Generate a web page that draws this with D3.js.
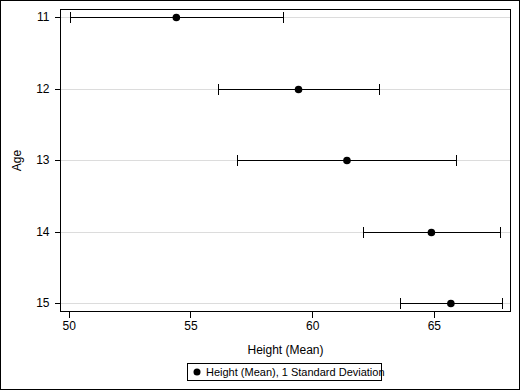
<!DOCTYPE html>
<html>
<head>
<meta charset="utf-8">
<script src="https://cdn.jsdelivr.net/npm/d3@7"></script>
<style>
html,body{margin:0;padding:0;background:#fff;}
svg{display:block;font-family:"Liberation Sans",Arial,sans-serif;}
line,rect{shape-rendering:crispEdges;}
</style>
</head>
<body>
<svg id="chart" width="520" height="390"></svg>
<script>
const ages = ["11", "12", "13", "14", "15"];
const meanHeight = [54.42, 59.44, 61.43, 64.90, 65.70];
const sdHeight = [4.38, 3.30, 4.50, 2.80, 2.10];
const xTicks = [50, 55, 60, 65];

const svg = d3.select("#chart");
const W = 520, H = 390;
const plot = {left: 60.5, right: 510.5, top: 9.5, bottom: 311.5};

// outer border
svg.append("rect").attr("x", 0.5).attr("y", 0.5).attr("width", W - 1).attr("height", H - 1)
  .attr("fill", "#fff").attr("stroke", "#000");

const x = d3.scaleLinear().domain([49.66, 68.15]).range([plot.left, plot.right]);
const yp = d3.scalePoint().domain(ages).range([17.5, 303.5]);
const y = d => Math.round(yp(d) - 0.5) + 0.5;

// gridlines
svg.append("g").selectAll("line").data(ages).join("line")
  .attr("x1", plot.left).attr("x2", plot.right)
  .attr("y1", d => y(d)).attr("y2", d => y(d))
  .attr("stroke", "#dcdcdc").attr("stroke-width", 1);

// axes
const yAxis = d3.axisLeft(yp).tickSize(6).tickPadding(5);
const gy = svg.append("g").attr("transform", `translate(${plot.left},0)`).call(yAxis);
gy.select(".domain").remove();
gy.selectAll(".tick").attr("transform", d => `translate(0,${y(d)})`);
gy.selectAll("text").attr("font-size", 12).attr("font-family", "Liberation Sans, Arial, sans-serif").attr("fill", "#000");

const xAxis = d3.axisBottom(x).tickValues(xTicks).tickSize(6).tickPadding(4);
const gx = svg.append("g").attr("transform", `translate(0,${plot.bottom})`).call(xAxis);
gx.select(".domain").remove();
gx.selectAll("text").attr("font-size", 12).attr("font-family", "Liberation Sans, Arial, sans-serif").attr("fill", "#000");

// frame
svg.append("rect").attr("x", plot.left).attr("y", plot.top)
  .attr("width", plot.right - plot.left).attr("height", plot.bottom - plot.top)
  .attr("fill", "none").attr("stroke", "#000");

const data = ages.map((a, i) => ({age: a, mean: meanHeight[i], sd: sdHeight[i]}));

// error bars
const eb = svg.append("g");
eb.selectAll("line.bar").data(data).join("line").attr("class", "bar")
  .attr("x1", d => x(d.mean - d.sd)).attr("x2", d => x(d.mean + d.sd))
  .attr("y1", d => y(d.age)).attr("y2", d => y(d.age))
  .attr("stroke", "#000");
eb.selectAll("line.capl").data(data).join("line").attr("class", "capl")
  .attr("x1", d => Math.round(x(d.mean - d.sd)) + 0.5).attr("x2", d => Math.round(x(d.mean - d.sd)) + 0.5)
  .attr("y1", d => y(d.age) - 5.5).attr("y2", d => y(d.age) + 5.5)
  .attr("stroke", "#000");
eb.selectAll("line.capr").data(data).join("line").attr("class", "capr")
  .attr("x1", d => Math.round(x(d.mean + d.sd)) + 0.5).attr("x2", d => Math.round(x(d.mean + d.sd)) + 0.5)
  .attr("y1", d => y(d.age) - 5.5).attr("y2", d => y(d.age) + 5.5)
  .attr("stroke", "#000");

// markers
svg.append("g").selectAll("circle").data(data).join("circle")
  .attr("cx", d => x(d.mean)).attr("cy", d => y(d.age)).attr("r", 3.8)
  .attr("fill", "#000");

// axis labels
svg.append("text").attr("x", (plot.left + plot.right) / 2).attr("y", 354)
  .attr("text-anchor", "middle").attr("font-size", 12).text("Height (Mean)");
svg.append("text").attr("transform", `translate(21,${(plot.top + plot.bottom) / 2}) rotate(-90)`)
  .attr("text-anchor", "middle").attr("font-size", 12).text("Age");

// legend
const lg = svg.append("g");
lg.append("rect").attr("x", 187.5).attr("y", 363.5).attr("width", 194).attr("height", 17)
  .attr("fill", "#fff").attr("stroke", "#000");
lg.append("circle").attr("cx", 197).attr("cy", 372).attr("r", 3.5).attr("fill", "#000");
lg.append("text").attr("x", 206).attr("y", 376).attr("font-size", 11)
  .text("Height (Mean), 1 Standard Deviation");
</script>
</body>
</html>
